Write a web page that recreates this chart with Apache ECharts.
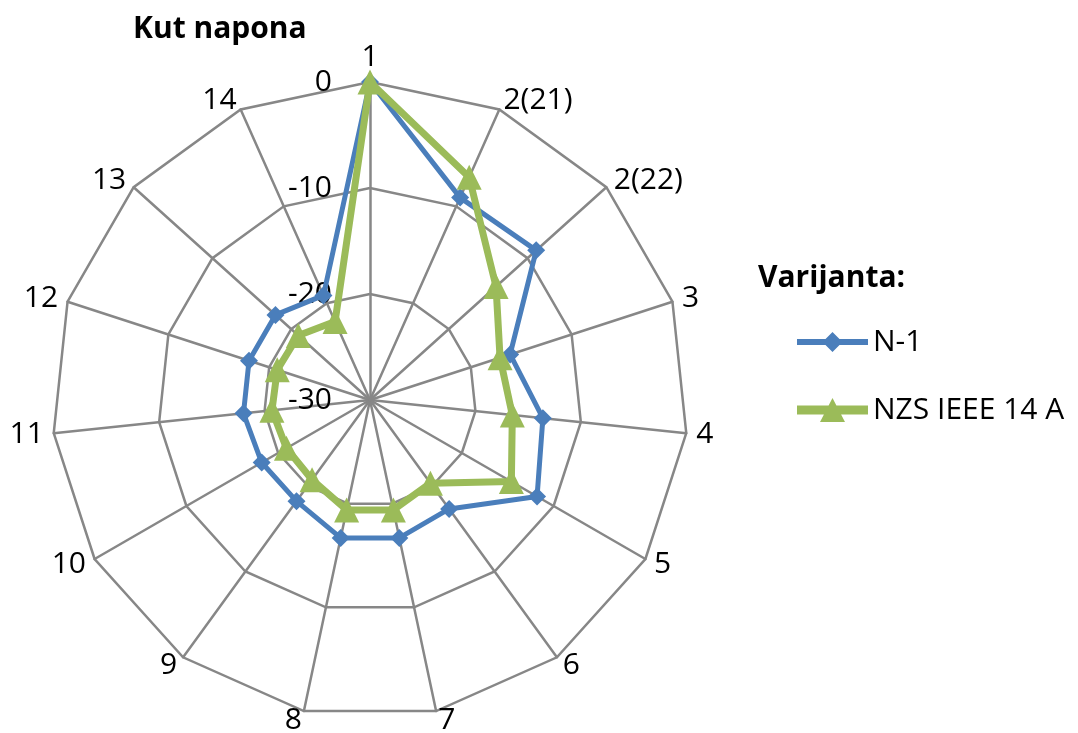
<!DOCTYPE html>
<html>
<head>
<meta charset="utf-8">
<script src="https://cdn.jsdelivr.net/npm/echarts@6/dist/echarts.min.js"></script>
<style>
  html, body { margin: 0; padding: 0; background: #fff; }
  #chart { width: 1078px; height: 733px; }
</style>
</head>
<body>
<div id="chart"></div>
<script>
// bus labels, clockwise from the top
const buses = ['1', '2(21)', '2(22)', '3', '4', '5', '6', '7', '8', '9', '10', '11', '12', '13', '14']
// voltage angle (deg) per bus
const n1 = [0, -9.1, -8.9, -16.1, -13.6, -11.8, -17.3, -16.7, -16.7, -18.2, -18.2, -18.0, -18.0, -18.0, -19.2]
const nzs = [0, -7.0, -14.0, -17.1, -16.5, -14.6, -20.3, -19.4, -19.4, -20.7, -20.9, -20.7, -20.8, -20.9, -21.9]
const seriesNames = ['N-1', 'NZS IEEE 14 A']
const axisMin = -30
const axisMax = 0

const font = 'Open Sans'
const gray = '#878787'
const blue = '#4a7ebb'
const green = '#9bbb59'

// legend icons: line with the marker in the middle
const blueIcon = 'path://M0 9 L71 9 L71 15 L0 15 Z M35.5 2 L45.5 12 L35.5 22 L25.5 12 Z'
const greenIcon = 'path://M0 7.5 L71 7.5 L71 16.5 L0 16.5 Z M35.5 0 L48 24 L23 24 Z'

// echarts radar goes counter-clockwise, so keep the first and reverse the rest
const order = [0].concat(buses.map((_, i) => i).slice(1).reverse())
const pick = arr => order.map(i => arr[i])

const indicator = pick(buses).map((b, i) => {
  const ind = { name: b, min: axisMin, max: axisMax }
  if (i === 0) ind.axisLabel = { show: true }
  return ind
})

const chart = echarts.init(document.getElementById('chart'))
chart.setOption({
  animation: false,
  title: [
    { text: 'Kut napona', left: 128, top: 9,
      textStyle: { fontFamily: font, fontSize: 30, fontWeight: 'bold', color: '#000' } },
    { text: 'Varijanta:', left: 753, top: 258,
      textStyle: { fontFamily: font, fontSize: 30, fontWeight: 'bold', color: '#000' } }
  ],
  legend: {
    orient: 'vertical',
    left: 792,
    top: 322,
    itemWidth: 71,
    itemHeight: 24,
    itemGap: 38,
    textStyle: { fontFamily: font, fontSize: 30, color: '#000' },
    data: [
      { name: seriesNames[0], icon: blueIcon },
      { name: seriesNames[1], icon: greenIcon }
    ]
  },
  radar: {
    center: [370, 400],
    radius: 318,
    shape: 'polygon',
    splitNumber: 3,
    nameGap: 10,
    axisName: { fontFamily: font, fontSize: 30, color: '#000' },
    axisLine: { lineStyle: { color: gray, width: 2.5 } },
    splitLine: { lineStyle: { color: gray, width: 2.5 } },
    splitArea: { show: false },
    axisTick: { show: false },
    axisLabel: { show: false, fontFamily: font, fontSize: 30, color: '#000', margin: 38 },
    indicator: indicator
  },
  series: [
    {
      type: 'radar',
      symbol: 'diamond',
      symbolSize: 18,
      itemStyle: { color: blue },
      lineStyle: { color: blue, width: 5 },
      data: [{ name: seriesNames[0], value: pick(n1) }]
    },
    {
      type: 'radar',
      symbol: 'triangle',
      symbolSize: 25,
      itemStyle: { color: green },
      lineStyle: { color: green, width: 7 },
      data: [{ name: seriesNames[1], value: pick(nzs) }]
    }
  ]
})
</script>
</body>
</html>
